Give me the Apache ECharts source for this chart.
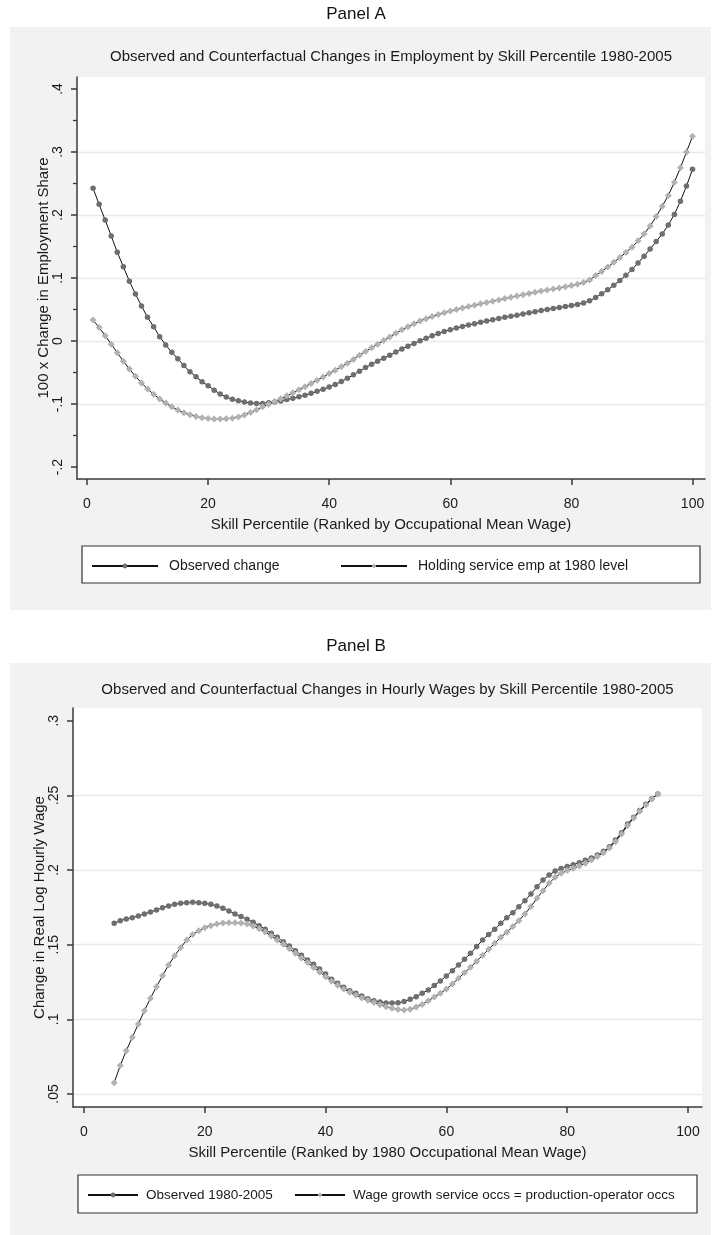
<!DOCTYPE html>
<html><head><meta charset="utf-8">
<script src="https://cdn.jsdelivr.net/npm/echarts@6/dist/echarts.min.js"></script>
<style>html,body{margin:0;padding:0;background:#fff;}#c{width:712px;height:1235px;}</style>
</head><body><div id="c"></div>
<script>
// ---------- Panel A data ----------
const pctA = [1,2,3,4,5,6,7,8,9,10,11,12,13,14,15,16,17,18,19,20,
  21,22,23,24,25,26,27,28,29,30,31,32,33,34,35,36,37,38,39,40,
  41,42,43,44,45,46,47,48,49,50,51,52,53,54,55,56,57,58,59,60,
  61,62,63,64,65,66,67,68,69,70,71,72,73,74,75,76,77,78,79,80,
  81,82,83,84,85,86,87,88,89,90,91,92,93,94,95,96,97,98,99,100];
const observedA = [
  .2423,.2170,.1920,.1667,.1410,.1180,.0950,.0746,.0556,.0376,
  .0227,.0069,-.0063,-.0180,-.0280,-.0390,-.0487,-.0566,-.0646,-.0710,
  -.0780,-.0840,-.0889,-.0926,-.0947,-.0968,-.0984,-.0990,-.0990,-.0980,
  -.0968,-.0952,-.0930,-.0910,-.0884,-.0862,-.0830,-.0799,-.0767,-.0730,
  -.0690,-.0643,-.0592,-.0536,-.0478,-.0422,-.0370,-.0320,-.0272,-.0224,
  -.0176,-.0128,-.0082,-.0038,.0004,.0044,.0082,.0118,.0150,.0180,
  .0206,.0230,.0254,.0275,.0296,.0316,.0337,.0357,.0377,.0393,
  .0410,.0428,.0447,.0466,.0485,.0500,.0516,.0532,.0548,.0563,
  .0580,.0605,.0638,.0690,.0750,.0812,.0885,.0960,.1045,.1135,
  .1240,.1345,.1460,.1580,.1700,.1840,.2010,.2220,.2460,.2725];
const holdingA = [
  .0333,.0215,.0085,-.0050,-.0185,-.0320,-.0445,-.0560,-.0665,-.0760,
  -.0845,-.0920,-.0985,-.1045,-.1095,-.1138,-.1172,-.1198,-.1217,-.1229,
  -.1236,-.1238,-.1234,-.1224,-.1205,-.1175,-.1135,-.1090,-.1045,-.1002,
  -.0960,-.0916,-.0870,-.0822,-.0772,-.0724,-.0674,-.0622,-.0570,-.0516,
  -.0462,-.0408,-.0352,-.0292,-.0225,-.0165,-.0108,-.0050,.0008,.0065,
  .0122,.0178,.0228,.0275,.0318,.0354,.0388,.0419,.0448,.0475,
  .0500,.0524,.0546,.0568,.0590,.0611,.0632,.0653,.0673,.0693,
  .0713,.0733,.0753,.0773,.0793,.0810,.0826,.0842,.0860,.0880,
  .0900,.0930,.0970,.1040,.1105,.1175,.1250,.1325,.1405,.1490,
  .1590,.1700,.1825,.1975,.2140,.2310,.2520,.2750,.3000,.3250];

// ---------- Panel B data ----------
const pctB = [5,6,7,8,9,10,11,12,13,14,15,16,17,18,19,20,21,22,23,24,
  25,26,27,28,29,30,31,32,33,34,35,36,37,38,39,40,41,42,43,44,
  45,46,47,48,49,50,51,52,53,54,55,56,57,58,59,60,61,62,63,64,
  65,66,67,68,69,70,71,72,73,74,75,76,77,78,79,80,81,82,83,84,
  85,86,87,88,89,90,91,92,93,94,95];
const observedB = [
  .1643,.1661,.1672,.1681,.1692,.1706,.1719,.1732,.1748,.1759,
  .1770,.1777,.1781,.1784,.1781,.1777,.1770,.1759,.1744,.1726,
  .1706,.1688,.1670,.1650,.1627,.1603,.1576,.1549,.1520,.1491,
  .1460,.1429,.1398,.1369,.1337,.1304,.1268,.1241,.1215,.1192,
  .1174,.1156,.1138,.1125,.1116,.1110,.1110,.1111,.1119,.1134,
  .1152,.1174,.1197,.1226,.1257,.1290,.1326,.1364,.1402,.1442,
  .1487,.1531,.1569,.1603,.1643,.1681,.1714,.1754,.1795,.1839,
  .1888,.1933,.1966,.1993,.2011,.2024,.2036,.2049,.2065,.2080,
  .2100,.2125,.2156,.2201,.2250,.2308,.2353,.2398,.2440,.2478,.2509];
const counterB = [
  .0576,.0690,.0790,.0880,.0969,.1058,.1141,.1219,.1292,.1364,
  .1426,.1480,.1531,.1569,.1594,.1614,.1627,.1639,.1645,.1647,
  .1647,.1645,.1639,.1625,.1607,.1585,.1558,.1531,.1503,.1473,
  .1442,.1411,.1380,.1348,.1317,.1286,.1255,.1228,.1203,.1181,
  .1161,.1143,.1127,.1112,.1098,.1085,.1074,.1066,.1063,.1068,
  .1082,.1100,.1124,.1150,.1174,.1203,.1237,.1275,.1312,.1349,
  .1389,.1429,.1469,.1509,.1550,.1583,.1621,.1661,.1706,.1755,
  .1811,.1862,.1911,.1951,.1978,.1996,.2012,.2027,.2045,.2067,
  .2090,.2116,.2148,.2190,.2241,.2299,.2348,.2393,.2435,.2476,.2509];

// ---------- ticks ----------
const xTicks = [0,20,40,60,80,100];
const yTicksA = [-0.2,-0.1,0,0.1,0.2,0.3,0.4];
const yMinorA = [-0.15,-0.05,0.05,0.15,0.25,0.35];
const yGridA = [-0.1,0,0.1,0.2,0.3];
const yTicksB = [0.05,0.1,0.15,0.2,0.25,0.3];
const yGridB = [0.05,0.1,0.15,0.2,0.25];

const NF = "'Liberation Sans',Arial,Helvetica,sans-serif";
const TXT = '#1a1a1a';
const AX = '#3a3a3a';
function fmt(v){ if (Math.abs(v) < 1e-9) return '0'; return String(Math.round(v*100)/100).replace('0.', '.'); }

function pairs(xs, ys){ return xs.map((x,i)=>[x, ys[i]]); }

const chart = echarts.init(document.getElementById('c'), null, {renderer:'canvas'});

function xAxisCfg(grid, min, max, name){
  return {gridIndex:grid, type:'value', min:min, max:max,
    axisLine:{show:true, onZero:false, lineStyle:{color:AX, width:1.5}},
    axisTick:{show:true, customValues:xTicks, length:6, lineStyle:{color:AX, width:1.5}},
    axisLabel:{customValues:xTicks, margin:18, fontSize:14, fontFamily:NF, color:TXT},
    splitLine:{show:false},
    name:name, nameLocation:'middle', nameGap:38, nameMoveOverlap:false,
    nameTextStyle:{fontFamily:NF, fontSize:15, color:TXT}};
}
function yMain(grid, min, max, ticks, name){
  return {gridIndex:grid, type:'value', min:min, max:max, position:'left',
    axisLine:{show:true, onZero:false, lineStyle:{color:AX, width:1.5}},
    axisTick:{show:true, customValues:ticks, length:6, lineStyle:{color:AX, width:1.5}},
    axisLabel:{customValues:ticks, rotate:90, margin:12, fontSize:14, fontFamily:NF, color:TXT, formatter:fmt},
    splitLine:{show:false},
    name:name, nameLocation:'middle', nameGap:26, nameRotate:90, nameMoveOverlap:false,
    nameTextStyle:{fontFamily:NF, fontSize:15, color:TXT}};
}
function yMinor(grid, min, max, ticks){
  return {gridIndex:grid, type:'value', min:min, max:max, position:'left',
    axisLine:{show:false, onZero:false}, axisLabel:{show:false}, splitLine:{show:false},
    axisTick:{show:true, customValues:ticks, length:4, lineStyle:{color:AX, width:1.3}}};
}
function yGrid(grid, min, max, ticks){
  return {gridIndex:grid, type:'value', min:min, max:max, position:'left',
    axisLine:{show:false, onZero:false}, axisLabel:{show:false},
    axisTick:{show:false, customValues:ticks},
    splitLine:{show:true, lineStyle:{color:'#e9e9e9', width:1.3}}};
}

const minYA = -0.219, maxYA = 0.41905;
const minYB = 0.04129, maxYB = 0.30851;

function lineSeries(name, xi, yi, data, symbol, size, col){
  return {type:'line', name:name, xAxisIndex:xi, yAxisIndex:yi, data:data,
    symbol:symbol, symbolSize:size, showAllSymbol:true,
    itemStyle:{color:col, borderWidth:0},
    lineStyle:{color:'#111', width:1},
    emphasis:{disabled:true}, animation:false, z:3};
}

function legendCfg(left, top, w, name, pad, fs){
  return {left:left, top:top, padding:0, itemWidth:w, itemHeight:6, selectedMode:false,
    data:[name], textStyle:{fontFamily:NF, fontSize:fs, color:TXT, padding:[0,0,0,pad]}};
}

const option = {
  animation:false,
  backgroundColor:'#ffffff',
  graphic:[
    {type:'rect', z:-10, shape:{x:10, y:27, width:701, height:583}, style:{fill:'#f2f2f2'}},
    {type:'rect', z:-9, shape:{x:77, y:77, width:628, height:402}, style:{fill:'#ffffff'}},
    {type:'rect', z:-9, shape:{x:82, y:546, width:618, height:37}, style:{fill:'#ffffff', stroke:'#333', lineWidth:1.2}},
    {type:'rect', z:-10, shape:{x:10, y:663, width:701, height:572}, style:{fill:'#f2f2f2'}},
    {type:'rect', z:-9, shape:{x:73, y:708, width:629, height:399}, style:{fill:'#ffffff'}},
    {type:'rect', z:-9, shape:{x:78, y:1175, width:619, height:38}, style:{fill:'#ffffff', stroke:'#333', lineWidth:1.2}}
  ],
  title:[
    {text:'Panel A', left:'center', top:6, padding:0, textStyle:{fontFamily:NF, fontSize:17, fontWeight:'normal', color:'#111'}},
    {text:'Observed and Counterfactual Changes in Employment by Skill Percentile 1980-2005', left:391, textAlign:'center', top:49, padding:0,
      textStyle:{fontFamily:NF, fontSize:15, fontWeight:'normal', color:TXT}},
    {text:'Panel B', left:'center', top:638, padding:0, textStyle:{fontFamily:NF, fontSize:17, fontWeight:'normal', color:'#111'}},
    {text:'Observed and Counterfactual Changes in Hourly Wages by Skill Percentile 1980-2005', left:387.5, textAlign:'center', top:682, padding:0,
      textStyle:{fontFamily:NF, fontSize:15, fontWeight:'normal', color:TXT}}
  ],
  legend:[
    legendCfg(91, 559, 66, 'Observed change', 6, 14),
    legendCfg(340, 559, 66, 'Holding service emp at 1980 level', 6, 14),
    legendCfg(87, 1188, 50, 'Observed 1980-2005', 3, 13.5),
    legendCfg(294, 1188, 50, 'Wage growth service occs = production-operator occs', 3, 13.5)
  ],
  grid:[
    {left:77, top:77, width:628, height:402, containLabel:false},
    {left:73, top:708, width:629, height:399, containLabel:false}
  ],
  xAxis:[
    xAxisCfg(0, -1.652, 102.06, 'Skill Percentile (Ranked by Occupational Mean Wage)'),
    xAxisCfg(1, -1.821, 102.32, 'Skill Percentile (Ranked by 1980 Occupational Mean Wage)')
  ],
  yAxis:[
    yMain(0, minYA, maxYA, yTicksA, '100 x Change in Employment Share'),
    yMinor(0, minYA, maxYA, yMinorA),
    yGrid(0, minYA, maxYA, yGridA),
    yMain(1, minYB, maxYB, yTicksB, 'Change in Real Log Hourly Wage'),
    yGrid(1, minYB, maxYB, yGridB)
  ],
  series:[
    lineSeries('Observed change', 0, 0, pairs(pctA, observedA), 'circle', 5.5, '#6e6e6e'),
    lineSeries('Holding service emp at 1980 level', 0, 0, pairs(pctA, holdingA), 'diamond', 7, '#b2b2b2'),
    lineSeries('Observed 1980-2005', 1, 3, pairs(pctB, observedB), 'circle', 5.5, '#6e6e6e'),
    lineSeries('Wage growth service occs = production-operator occs', 1, 3, pairs(pctB, counterB), 'diamond', 7, '#b2b2b2')
  ]
};
chart.setOption(option);
</script></body></html>
